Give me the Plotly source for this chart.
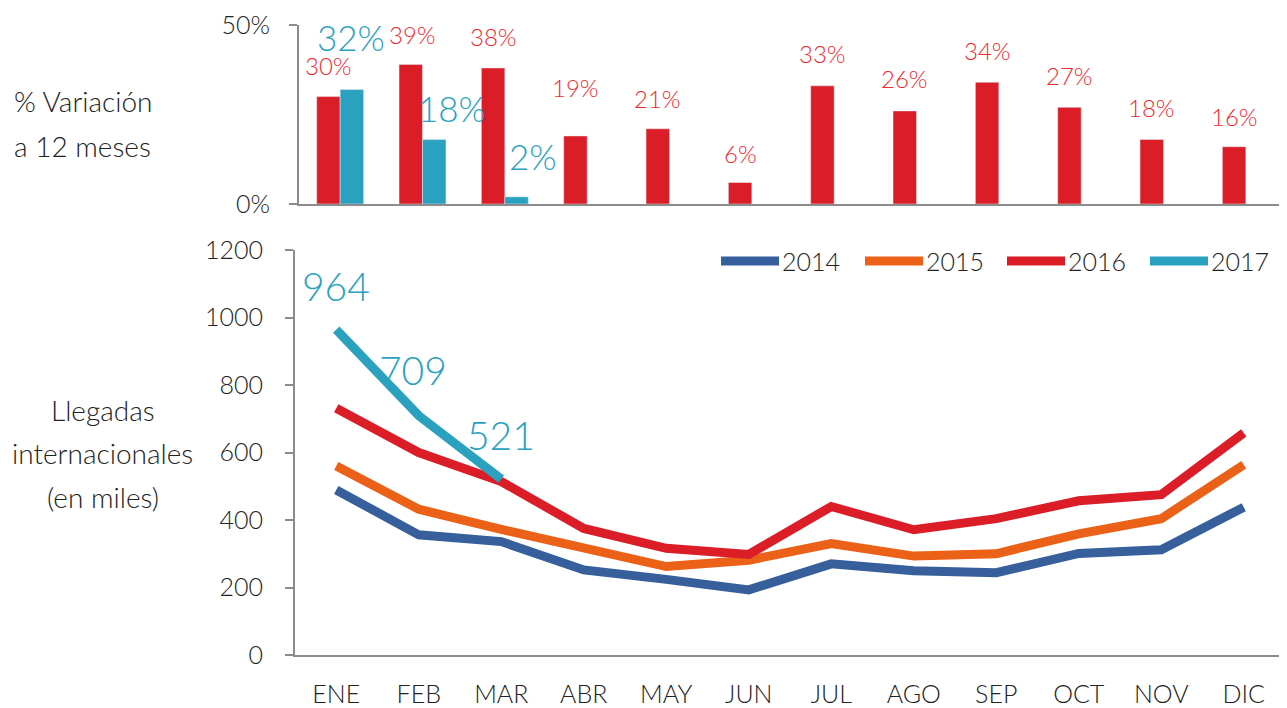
import plotly.graph_objects as go

months = ["ENE", "FEB", "MAR", "ABR", "MAY", "JUN", "JUL", "AGO", "SEP", "OCT", "NOV", "DIC"]

# % variation at 12 months
var_2016 = [30, 39, 38, 19, 21, 6, 33, 26, 34, 27, 18, 16]
var_2017 = [32, 18, 2]

# International arrivals (thousands)
arr_2014 = [489, 356, 336, 252, 224, 193, 270, 250, 244, 301, 312, 438]
arr_2015 = [560, 432, 372, 316, 262, 281, 330, 293, 300, 359, 404, 564]
arr_2016 = [731, 600, 514, 375, 316, 298, 440, 371, 404, 457, 475, 658]
arr_2017 = [964, 709, 521]

years = ["2014", "2015", "2016", "2017"]
colors = {"2014": "#365F9C", "2015": "#EC6118", "2016": "#DA1D27", "2017": "#2AA1BF"}
red_text = "#EE2A30"
teal_text = "#2AA1BF"
FONT = "Lato"
WT = 300
axis_gray = "#8C8C8C"
tick_color = "#222"

# page has an 8px body margin: build the figure in page pixels minus that offset
OFF = 8
W, H = 1287 - OFF, 708 - OFF


def X(px):
    return (px - OFF) / W


def Y(py):
    return 1 - (py - OFF) / H


fig = go.Figure()

# ---- top bars ----
fig.add_trace(go.Bar(x=months, y=var_2016, marker_color=colors["2016"], xaxis="x", yaxis="y",
                     showlegend=False, name="2016"))
fig.add_trace(go.Bar(x=months[:len(var_2017)], y=var_2017, marker_color=colors["2017"], xaxis="x", yaxis="y",
                     showlegend=False, name="2017"))

# ---- bottom lines ----
series = {"2014": arr_2014, "2015": arr_2015, "2016": arr_2016, "2017": arr_2017}
for yr in years:
    vals = series[yr]
    fig.add_trace(go.Scatter(x=months[:len(vals)], y=vals, mode="lines", name=yr,
                             line=dict(color=colors[yr], width=9),
                             xaxis="x2", yaxis="y2", showlegend=False))

bargap = 0.43
half = (1 - bargap) / 4

annotations = []
shapes = []
red_shift = [31, 30, 31, 48, 30, 29, 32, 32, 32, 32, 32, 30]
red_xshift = [0, 2, 0, 0, 0, 0, 0, 0, 0, 0, 0, 0]
for i, v in enumerate(var_2016):
    annotations.append(dict(x=i - half, y=v, xref="x", yref="y", text=f"{v}%", showarrow=False,
                            yanchor="middle", yshift=red_shift[i], xshift=red_xshift[i],
                            font=dict(family=FONT, size=24, color=red_text, weight=WT)))
teal_xshift = [-1, 18, 16]
teal_yshift = [52, 32, 41]
for i, v in enumerate(var_2017):
    annotations.append(dict(x=i + half, y=v, xref="x", yref="y", text=f"{v}%", showarrow=False,
                            yanchor="middle", xshift=teal_xshift[i], yshift=teal_yshift[i],
                            font=dict(family=FONT, size=35, color=teal_text, weight=WT)))
line_xshift = [0, -6, 0]
line_yshift = [44, 46, 44]
for i, v in enumerate(arr_2017):
    annotations.append(dict(x=i, y=v, xref="x2", yref="y2", text=str(v), showarrow=False,
                            yanchor="middle", xshift=line_xshift[i], yshift=line_yshift[i],
                            font=dict(family=FONT, size=39, color=teal_text, weight=WT)))

# left titles
title_font = dict(family=FONT, size=28, color="#222", weight=WT)
for txt, cx, cy in [("% Variación", 83, 101), ("a 12 meses", 82, 146),
                    ("Llegadas", 103, 410), ("internacionales", 103, 453), ("(en miles)", 103, 497)]:
    annotations.append(dict(x=X(cx), y=Y(cy), xref="paper", yref="paper", text=txt, showarrow=False,
                            xanchor="center", yanchor="middle", font=title_font))

# custom legend (long line keys like the original)
legend_x = [721, 865, 1007, 1150]
key_len = 58
legend_y = 261
for yr, lx in zip(years, legend_x):
    shapes.append(dict(type="line", xref="paper", yref="paper", x0=X(lx), x1=X(lx + key_len),
                       y0=Y(legend_y), y1=Y(legend_y), line=dict(color=colors[yr], width=9)))
    annotations.append(dict(x=X(lx + key_len + 1), y=Y(legend_y), xref="paper", yref="paper", text=yr,
                            showarrow=False, xanchor="left", yanchor="middle",
                            font=dict(family=FONT, size=25, color="#222", weight=WT)))

fig.update_layout(
    width=W, height=H,
    margin=dict(l=0, r=0, t=0, b=0, autoexpand=False),
    paper_bgcolor="white", plot_bgcolor="white",
    barmode="group", bargap=bargap, bargroupgap=0,
    font=dict(family=FONT, size=22, color=tick_color, weight=WT),
    annotations=annotations, shapes=shapes, showlegend=False,
    xaxis=dict(domain=[X(299), X(1287)], anchor="y", showticklabels=False, showline=True,
               linecolor=axis_gray, linewidth=2, ticks="", showgrid=False, zeroline=False,
               categoryorder="array", categoryarray=months, range=[-0.5, 11.5], automargin=False),
    yaxis=dict(domain=[Y(204), Y(25)], anchor="x", range=[0, 50], tickvals=[0, 50],
               ticktext=["0%", "50%"], showline=True, linecolor=axis_gray, linewidth=2,
               ticks="outside", ticklen=8, tickcolor=axis_gray, tickwidth=2, showgrid=False,
               zeroline=False, ticklabelstandoff=14, automargin=False,
               tickfont=dict(size=25, color=tick_color, weight=WT)),
    xaxis2=dict(domain=[X(295), X(1285)], anchor="y2", showline=True, linecolor=axis_gray,
                linewidth=2, ticks="", showgrid=False, zeroline=False, ticklabelstandoff=16,
                categoryorder="array", categoryarray=months, range=[-0.5, 11.5], automargin=False,
                tickfont=dict(size=25, color=tick_color, weight=WT)),
    yaxis2=dict(domain=[Y(655), Y(250)], anchor="x2", range=[0, 1200], dtick=200,
                showline=True, linecolor=axis_gray, linewidth=2, ticks="outside", ticklen=8,
                tickcolor=axis_gray, tickwidth=2, showgrid=False, zeroline=False,
                ticklabelstandoff=17, automargin=False,
                tickfont=dict(size=25, color=tick_color, weight=WT)),
)

fig.write_html("out.html")
